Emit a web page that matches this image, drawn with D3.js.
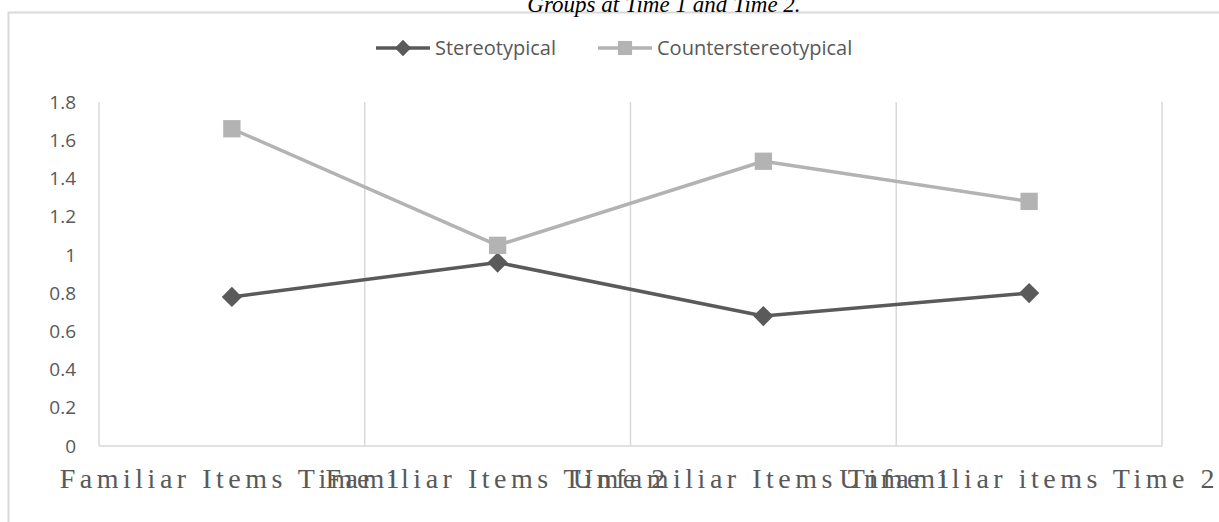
<!DOCTYPE html>
<html lang="en">
<head>
  <meta charset="UTF-8">
  <title>Stereotypical vs Counterstereotypical</title>
  <style>
    body { margin: 0; background: #fff; }
    svg { display: block; }
    .tick-y { font-family: "Open Sans", sans-serif; font-size: 19px; fill: #595959; }
    .tick-x { font-family: "Liberation Serif", serif; font-size: 28px; fill: #595959; }
    .legend text { font-family: "Open Sans", sans-serif; font-size: 20px; fill: #595959; }
    .title { font-family: "Liberation Serif", serif; font-style: italic; font-size: 23px; fill: #000; }
  </style>
</head>
<body>
  <svg id="chart" width="1219" height="522"></svg>
  <script src="https://d3js.org/d3.v7.min.js"></script>
  <script>
    const categories = ['Familiar Items Time 1', 'Familiar Items Time 2', 'Unfamiliar Items Time 1', 'Unfamiliar items Time 2']
    const stereotypical = [0.78, 0.96, 0.68, 0.80]
    const counterstereotypical = [1.66, 1.05, 1.49, 1.28]
    const yTicks = [0, 0.2, 0.4, 0.6, 0.8, 1, 1.2, 1.4, 1.6, 1.8]

    const series = [
      { name: 'Stereotypical', values: stereotypical, color: '#5a5a5a', symbol: d3.symbolDiamond2 },
      { name: 'Counterstereotypical', values: counterstereotypical, color: '#b3b3b3', symbol: d3.symbolSquare }
    ]

    const svg = d3.select('#chart')
    const plot = { left: 99, right: 1162, top: 102, bottom: 446 }

    const x = d3.scaleBand()
      .domain(categories)
      .range([plot.left, plot.right])
      .padding(0)

    const y = d3.scaleLinear()
      .domain([0, 1.8])
      .range([plot.bottom, plot.top])

    // outer chart frame (cut off on the right and bottom)
    svg.append('rect')
      .attr('x', 8.5)
      .attr('y', 12.5)
      .attr('width', 1260)
      .attr('height', 560)
      .attr('fill', 'none')
      .attr('stroke', '#d9d9d9')
      .attr('stroke-width', 2)

    // title, mostly clipped at the top
    svg.append('text')
      .attr('class', 'title')
      .attr('x', 664)
      .attr('y', 12)
      .attr('text-anchor', 'middle')
      .text('Groups at Time 1 and Time 2.')

    // vertical gridlines at band edges
    const edges = categories.map(c => x(c)).concat([x.range()[1]])
    svg.selectAll('.vgrid')
      .data(edges)
      .enter()
      .append('line')
      .attr('class', 'vgrid')
      .attr('x1', d => d)
      .attr('x2', d => d)
      .attr('y1', plot.top)
      .attr('y2', plot.bottom)
      .attr('stroke', '#d9d9d9')
      .attr('stroke-width', 1.5)

    svg.append('line')
      .attr('x1', plot.left)
      .attr('x2', plot.right)
      .attr('y1', plot.bottom)
      .attr('y2', plot.bottom)
      .attr('stroke', '#d9d9d9')
      .attr('stroke-width', 1.5)

    // y tick labels
    svg.selectAll('.tick-y')
      .data(yTicks)
      .enter()
      .append('text')
      .attr('class', 'tick-y')
      .attr('x', 76)
      .attr('y', d => y(d))
      .attr('dy', '0.35em')
      .attr('text-anchor', 'end')
      .text(d => d)

    // x tick labels (they overlap in the original)
    svg.selectAll('.tick-x')
      .data(categories)
      .enter()
      .append('text')
      .attr('class', 'tick-x')
      .attr('x', d => x(d) + x.bandwidth() / 2)
      .attr('y', 488)
      .attr('text-anchor', 'middle')
      .attr('letter-spacing', 4.5)
      .text(d => d)

    const line = d3.line()
      .x((d, i) => x(categories[i]) + x.bandwidth() / 2)
      .y(d => y(d))

    series.forEach(s => {
      svg.append('path')
        .attr('d', line(s.values))
        .attr('fill', 'none')
        .attr('stroke', s.color)
        .attr('stroke-width', 3.5)
        .attr('stroke-linejoin', 'round')

      svg.selectAll(null)
        .data(s.values)
        .enter()
        .append('path')
        .attr('d', d3.symbol().type(s.symbol).size(s.symbol === d3.symbolSquare ? 300 : 260))
        .attr('transform', (d, i) => `translate(${x(categories[i]) + x.bandwidth() / 2},${y(d)})`)
        .attr('fill', s.color)
    })

    // legend
    const legendItems = [
      { s: series[0], x0: 376, tx: 435 },
      { s: series[1], x0: 598, tx: 657 }
    ]
    const legend = svg.append('g').attr('class', 'legend')
    legendItems.forEach(item => {
      legend.append('line')
        .attr('x1', item.x0)
        .attr('x2', item.x0 + 54)
        .attr('y1', 48)
        .attr('y2', 48)
        .attr('stroke', item.s.color)
        .attr('stroke-width', 3.5)
      legend.append('path')
        .attr('d', d3.symbol().type(item.s.symbol).size(item.s.symbol === d3.symbolSquare ? 200 : 170))
        .attr('transform', `translate(${item.x0 + 27},48)`)
        .attr('fill', item.s.color)
      legend.append('text')
        .attr('x', item.tx)
        .attr('y', 48)
        .attr('dy', '0.35em')
        .text(item.s.name)
    })
  </script>
</body>
</html>
